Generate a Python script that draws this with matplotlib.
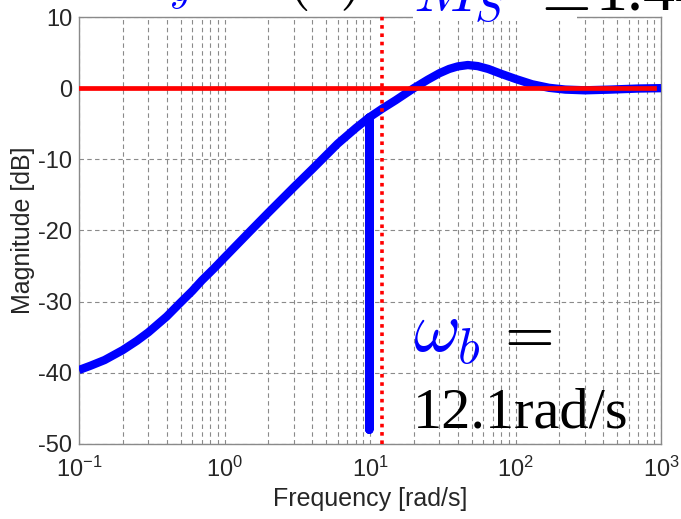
import numpy as np
import matplotlib
matplotlib.use("Agg")
import matplotlib.pyplot as plt
from matplotlib.patches import Rectangle

plt.rcParams['font.family'] = ['Liberation Sans', 'DejaVu Sans']
plt.rcParams['mathtext.fontset'] = 'cm'
plt.rcParams['axes.unicode_minus'] = False

# Sensitivity magnitude |S(jw)| in dB
freq = [0.1, 0.12, 0.15, 0.2, 0.25, 0.3, 0.4, 0.5, 0.6, 0.7, 0.85, 1.0, 1.5,
        2.0, 3.0, 4.0, 6.0, 8.0, 9.9, 9.9, 9.9, 12.1, 15.0, 20.0, 25.0, 30.0,
        35.0, 40.0, 47.0, 55.0, 65.0, 80.0, 100.0, 130.0, 170.0, 220.0, 300.0,
        450.0, 700.0, 1000.0]
mag_db = [-39.6, -39.0, -38.2, -36.8, -35.5, -34.3, -32.1, -30.1, -28.5, -27.0,
          -25.3, -23.8, -20.1, -17.5, -13.9, -11.4, -7.8, -5.6, -4.1, -48.0,
          -4.1, -2.9, -1.7, 0.0, 1.2, 2.1, 2.7, 3.05, 3.25, 3.1, 2.7, 2.0, 1.3,
          0.55, 0.05, -0.2, -0.3, -0.2, -0.05, 0.0]

zero_db_span = [0.1, 900.0]
zero_db = [0.0, 0.0]
w_b = 12.1
M_S = 1.44

x_ticks = [0.1, 1, 10, 100, 1000]
y_ticks = [-50, -40, -30, -20, -10, 0, 10]

fig = plt.figure(figsize=(6.81, 5.19), dpi=100)
ax = fig.add_axes([79/681, 1 - 444/519, (661 - 79)/681, (444 - 17)/519])

ax.set_xscale('log')
ax.set_xlim(0.1, 1000)
ax.set_ylim(-50, 10)
ax.set_xticks(x_ticks)
ax.set_yticks(y_ticks)

grid_kw = dict(color='#8a8a8a', linewidth=0.8, linestyle=(0, (4, 3)))
ax.grid(True, which='major', axis='both', **grid_kw)
ax.grid(True, which='minor', axis='x', **grid_kw)
ax.set_axisbelow(True)

for s in ax.spines.values():
    s.set_color('#8a8a8a')
    s.set_linewidth(1.0)
ax.tick_params(axis='both', which='both', direction='in', colors='#8a8a8a',
               labelcolor='#262626', labelsize=17, length=0)
ax.tick_params(axis='y', pad=5)
ax.tick_params(axis='x', pad=9)

ax.plot(freq, mag_db, color='#0000ff', linewidth=6.0,
        solid_joinstyle='round', solid_capstyle='butt', zorder=3)
ax.plot(zero_db_span, zero_db, color='#ff0000', linewidth=3.4, zorder=4)
ax.plot([w_b, w_b], [-50, 10.6], color='#ff0000', linewidth=2.6,
        linestyle=(0, (1, 1.3)), zorder=5, clip_on=False)

ax.set_xlabel('Frequency [rad/s]', fontsize=18, color='#262626', labelpad=4)
ax.set_ylabel('Magnitude [dB]', fontsize=18, color='#262626', labelpad=2)

# annotation for the bandwidth
fig.text(413/681, 1 - 352/519, r'$\omega_b$', color='#0000ff', fontsize=52,
         va='baseline', ha='left')
fig.text(493/681, 1 - 352/519, r'$=$', color='black', fontsize=46,
         va='baseline', ha='left')
fig.text(413/681, 1 - 427/519, '12.1rad/s', color='black', fontsize=42,
         va='baseline', ha='left', family='Liberation Serif')

# heading along the top edge
fig.patches.append(Rectangle((413/681, 1 - 21/519), (577 - 413)/681, 21/519,
                             transform=fig.transFigure, facecolor='white',
                             edgecolor='none', zorder=6))
fig.text(192/681, 1 + 9/519, r'$S_y$', color='#0000ff', fontsize=44,
         va='baseline', ha='right', zorder=7)
fig.text(285/681, 1 + 5/519, r'$(s)$', color='black', fontsize=46,
         va='baseline', ha='left', zorder=7)
fig.text(413/681, 1 - 12/519, r'$M_S$', color='#0000ff', fontsize=46,
         va='baseline', ha='left', zorder=7)
fig.text(530/681, 1 - 17/519, r'$=$', color='black', fontsize=46,
         va='baseline', ha='left', zorder=7)
fig.text(595/681, 1 - 10/519, '1.44', color='black', fontsize=46,
         va='baseline', ha='left', family='Liberation Serif', zorder=7)

fig.savefig('out.png', dpi=100)
